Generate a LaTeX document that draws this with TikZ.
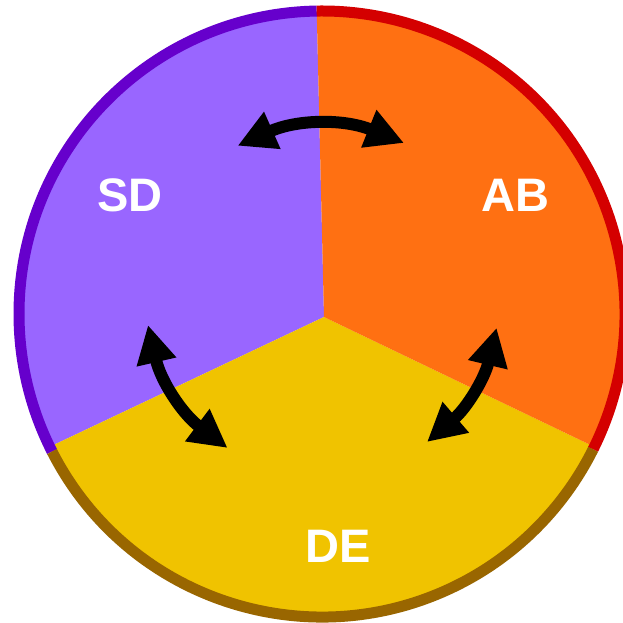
\documentclass[tikz,border=0pt]{standalone}
\usepackage{fontspec}
\setmainfont{Liberation Sans}
\usetikzlibrary{arrows.meta}
\definecolor{sdfill}{HTML}{9966FF}
\definecolor{abfill}{HTML}{FF7012}
\definecolor{defill}{HTML}{F0C300}
\definecolor{sdrim}{HTML}{6600CC}
\definecolor{abrim}{HTML}{D40000}
\definecolor{derim}{HTML}{996600}
\tikzset{
  rim/.style={line width=11pt, line cap=butt},
  label/.style={text=white, font=\fontsize{47}{47}\selectfont\bfseries, inner sep=0pt},
  swap/.style={line width=12pt, {Triangle[length=38pt,width=38pt]}-{Triangle[length=38pt,width=38pt]}}
}
\begin{document}
\begin{tikzpicture}[x=1pt,y=1pt]
\useasboundingbox (0,0) rectangle (623,623);
\fill[white] (0,0) rectangle (623,623);
% centre of the rim and apex of the three sectors
\coordinate (O) at (322,309);
\coordinate (P) at (324,306);
\def\R{303}
% sectors
\fill[sdfill] (P) -- ([shift={(O)}]91:\R) arc[start angle=91,end angle=206,radius=\R] -- cycle;
\fill[defill] (P) -- ([shift={(O)}]206:\R) arc[start angle=206,end angle=334,radius=\R] -- cycle;
\fill[abfill] (P) -- ([shift={(O)}]334:\R) arc[start angle=334,end angle=451,radius=\R] -- cycle;
% coloured rim
\draw[rim, sdrim] ([shift={(O)}]91:\R) arc[start angle=91,end angle=207,radius=\R];
\draw[rim, derim] ([shift={(O)}]207:\R) arc[start angle=207,end angle=333.5,radius=\R];
\draw[rim, abrim] ([shift={(O)}]333.5:\R) arc[start angle=333.5,end angle=451,radius=\R];
% labels
\node[label] (sd) at (130,428) {SD};
\node[label] (ab) at (515,428) {AB};
\node[label] (de) at (338.5,77) {DE};
% arrow end points
\coordinate (t1) at (237.6,477.2);
\coordinate (t2) at (404,480);
\coordinate (l1) at (148,298);
\coordinate (l2) at (227.6,175);
\coordinate (r1) at (496.6,295.2);
\coordinate (r2) at (427,181);
% exchange arrows
\draw[swap] (t1) to[bend left=23] (t2);
\draw[swap] (l1) to[bend right=20] (l2);
\draw[swap] (r1) to[bend left=18] (r2);
\end{tikzpicture}
\end{document}
